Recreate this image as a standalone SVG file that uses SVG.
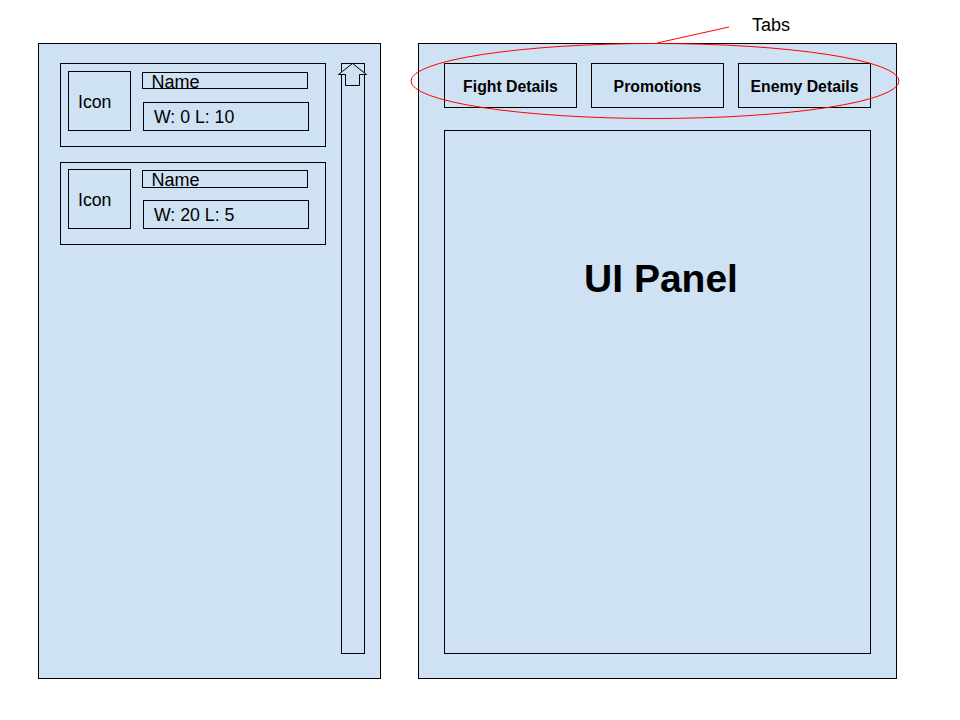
<svg xmlns="http://www.w3.org/2000/svg" width="960" height="720" viewBox="0 0 960 720">
  <style>
    .box { fill: #cfe2f3; stroke: #000; stroke-width: 1; }
    .txt { font-family: "Liberation Sans", Arial, sans-serif; fill: #000; }
    .tab { font-family: "Liberation Sans", Arial, sans-serif; font-weight: bold; font-size: 15.8px; text-anchor: middle; }
    .callout { fill: none; stroke: #ff0000; stroke-width: 1; }
  </style>
  <rect width="960" height="720" fill="#ffffff"/>

  <!-- Left: roster list -->
  <g id="roster-panel">
    <rect class="box" x="38.5" y="43.5" width="342" height="635"/>
  </g>
  <g id="card-1">
    <rect class="box" x="60.5" y="63.5" width="265" height="83"/>
    <rect class="box" x="68.5" y="71.5" width="62" height="59"/>
    <text class="txt" x="78" y="108" font-size="17.7">Icon</text>
    <rect class="box" x="142.5" y="72.5" width="165" height="16"/>
    <text class="txt" x="151.5" y="88" font-size="18">Name</text>
    <rect class="box" x="143.5" y="102.5" width="165" height="28"/>
    <text class="txt" x="154" y="123" font-size="17.7">W: 0 L: 10</text>
  </g>
  <g id="card-2">
    <rect class="box" x="60.5" y="162.5" width="265" height="82"/>
    <rect class="box" x="68.5" y="169.5" width="62" height="59"/>
    <text class="txt" x="78" y="206" font-size="17.7">Icon</text>
    <rect class="box" x="142.5" y="170.5" width="165" height="17"/>
    <text class="txt" x="151.5" y="186" font-size="18">Name</text>
    <rect class="box" x="143.5" y="200.5" width="165" height="28"/>
    <text class="txt" x="154" y="221" font-size="17.7">W: 20 L: 5</text>
  </g>
  <g id="scrollbar">
    <rect class="box" x="341.5" y="63.5" width="23" height="590"/>
    <path class="box" d="M352.5 63.5 L366.5 74.5 L359.5 74.5 L359.5 85.5 L345.5 85.5 L345.5 74.5 L338.5 74.5 Z" stroke-linejoin="miter"/>
  </g>

  <!-- Right: detail panel with tabs -->
  <g id="detail-panel">
    <rect class="box" x="418.5" y="43.5" width="478" height="635"/>
  </g>
  <g id="tab-fight">
    <rect class="box" x="444.5" y="63.5" width="132" height="44"/>
    <text class="tab" x="510.5" y="91.5">Fight Details</text>
  </g>
  <g id="tab-promotions">
    <rect class="box" x="591.5" y="63.5" width="132" height="44"/>
    <text class="tab" x="657.5" y="91.5">Promotions</text>
  </g>
  <g id="tab-enemy">
    <rect class="box" x="738.5" y="63.5" width="132" height="44"/>
    <text class="tab" x="804.5" y="91.5">Enemy Details</text>
  </g>
  <g id="ui-panel">
    <rect class="box" x="444.5" y="130.5" width="426" height="523"/>
    <text class="txt" x="661" y="292" font-size="39" font-weight="bold" text-anchor="middle">UI Panel</text>
  </g>

  <!-- Annotation callout -->
  <g id="connectors">
    <ellipse class="callout" cx="655" cy="81" rx="244" ry="37.5"/>
    <line class="callout" x1="657" y1="43" x2="729" y2="27"/>
  </g>
  <g id="tabs-label">
    <text class="txt" x="752" y="30.5" font-size="18">Tabs</text>
  </g>
</svg>
